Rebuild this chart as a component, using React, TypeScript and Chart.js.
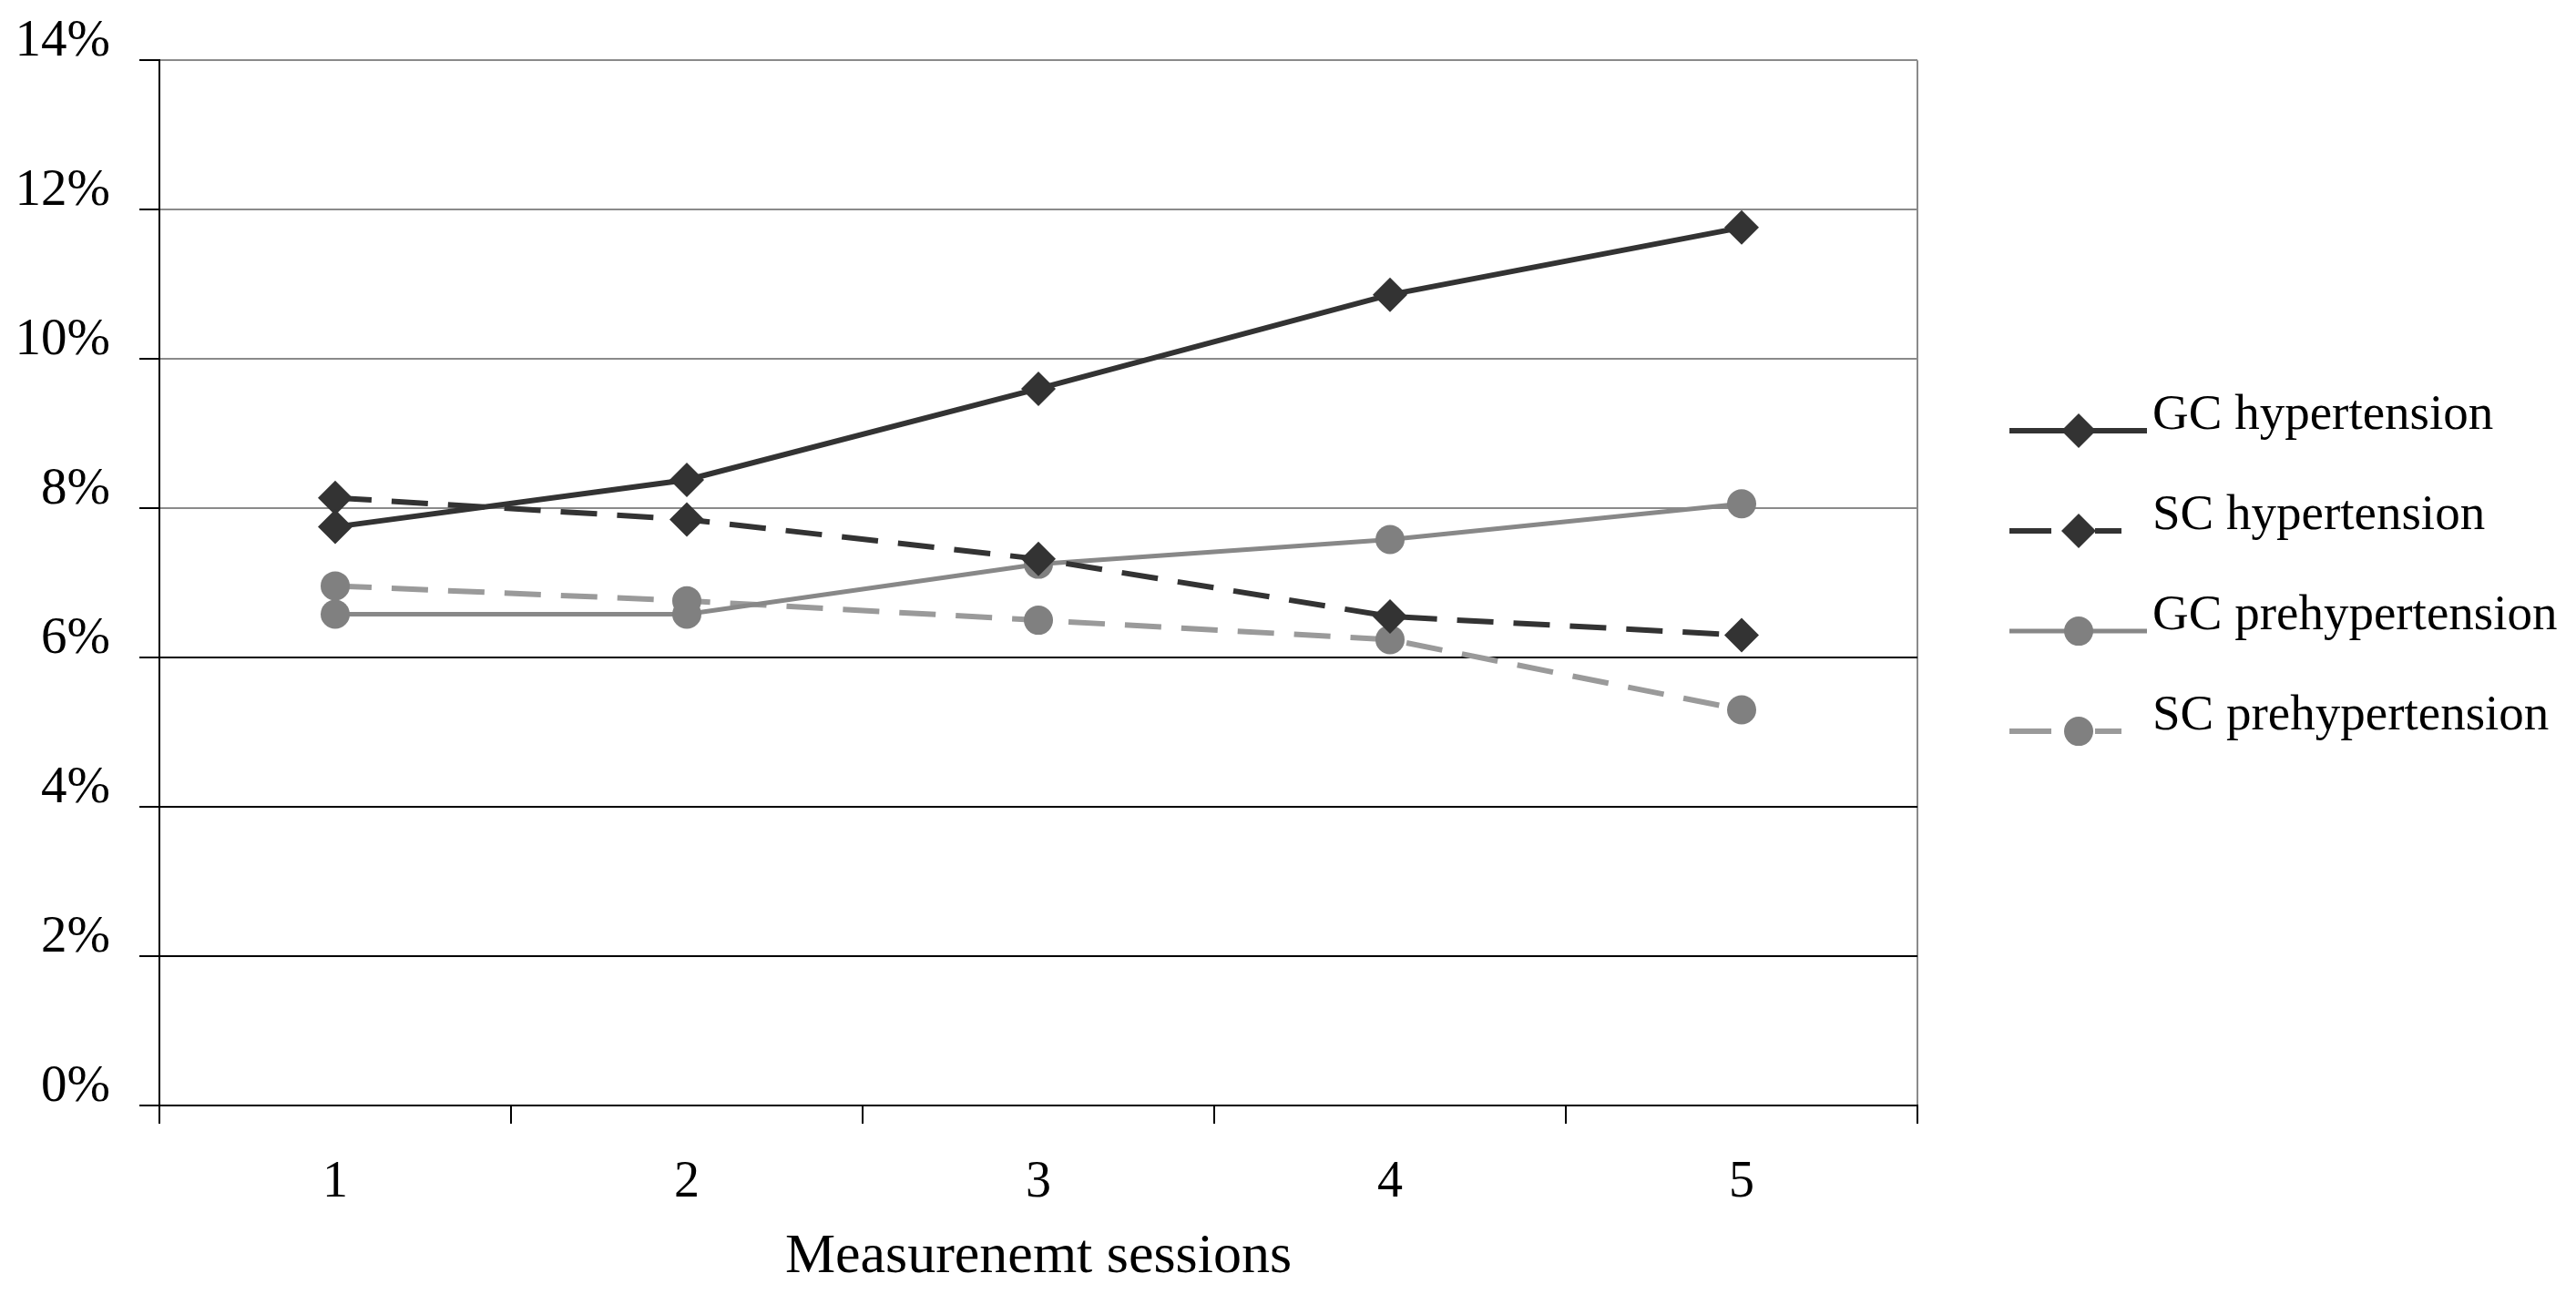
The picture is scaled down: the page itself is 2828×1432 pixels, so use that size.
import React, { useEffect, useRef } from 'react';
import { Chart, registerables } from 'chart.js';

Chart.register(...registerables);

const categories = ['1', '2', '3', '4', '5'];
const seriesNames = ['GC hypertension', 'SC hypertension', 'GC prehypertension', 'SC prehypertension'];
const gcHypertension = [7.75, 8.38, 9.6, 10.86, 11.76];
const scHypertension = [8.14, 7.85, 7.32, 6.55, 6.3];
const gcPrehypertension = [6.58, 6.58, 7.25, 7.58, 8.06];
const scPrehypertension = [6.96, 6.76, 6.5, 6.24, 5.3];
const yMin = 0;
const yMax = 14;
const yStep = 2;
const xTitle = 'Measurenemt sessions';

const FONT = '"Liberation Serif", "Times New Roman", serif';

function drawMarker(ctx: CanvasRenderingContext2D, style: string, x: number, y: number, r: number, color: string) {
  ctx.fillStyle = color;
  ctx.beginPath();
  if (style === 'rectRot') {
    ctx.moveTo(x - r, y);
    ctx.lineTo(x, y - r);
    ctx.lineTo(x + r, y);
    ctx.lineTo(x, y + r);
    ctx.closePath();
  } else {
    ctx.arc(x, y, r, 0, Math.PI * 2);
  }
  ctx.fill();
}

const lineLegend = {
  id: 'lineLegend',
  afterDraw(chart: any) {
    const { ctx, chartArea } = chart;
    const x0 = chartArea.right + 101;
    const xm = x0 + 76;
    const mid = (chartArea.top + chartArea.bottom) / 2;
    chart.data.datasets.forEach((ds: any, i: number) => {
      const y = mid + (i - 1.5) * 110 - 2;
      ctx.save();
      ctx.strokeStyle = ds.borderColor;
      ctx.lineWidth = ds.borderWidth;
      const dashed = ds.borderDash && ds.borderDash.length > 0;
      ctx.setLineDash(dashed ? [46, 48] : []);
      ctx.beginPath();
      ctx.moveTo(x0, y);
      ctx.lineTo(dashed ? x0 + 123 : x0 + 151, y);
      ctx.stroke();
      ctx.setLineDash([]);
      drawMarker(ctx, ds.pointStyle, xm, y, ds.pointRadius, ds.pointBackgroundColor);
      ctx.fillStyle = '#000';
      ctx.font = `55px ${FONT}`;
      ctx.textAlign = 'left';
      ctx.textBaseline = 'alphabetic';
      ctx.fillText(ds.label, x0 + 157, y - 2);
      ctx.restore();
    });
  },
};

export default function App() {
  const canvasRef = useRef<HTMLCanvasElement>(null);

  useEffect(() => {
    document.body.style.margin = '0';
    const canvas = canvasRef.current;
    if (!canvas) return;
    const dark = '#333333';
    const chart = new Chart(canvas, {
      type: 'line',
      data: {
        labels: categories,
        datasets: [
          {
            label: seriesNames[0],
            data: gcHypertension,
            borderColor: dark,
            backgroundColor: dark,
            borderWidth: 6,
            pointStyle: 'rectRot',
            pointRadius: 19,
            pointBackgroundColor: dark,
            pointBorderWidth: 0,
            tension: 0,
          },
          {
            label: seriesNames[1],
            data: scHypertension,
            borderColor: dark,
            backgroundColor: dark,
            borderWidth: 6,
            borderDash: [40, 22],
            pointStyle: 'rectRot',
            pointRadius: 19,
            pointBackgroundColor: dark,
            pointBorderWidth: 0,
            tension: 0,
          },
          {
            label: seriesNames[2],
            data: gcPrehypertension,
            borderColor: '#888888',
            backgroundColor: '#808080',
            borderWidth: 5,
            pointStyle: 'circle',
            pointRadius: 16,
            pointBackgroundColor: '#808080',
            pointBorderWidth: 0,
            tension: 0,
          },
          {
            label: seriesNames[3],
            data: scPrehypertension,
            borderColor: '#9a9a9a',
            backgroundColor: '#808080',
            borderWidth: 6,
            borderDash: [40, 22],
            pointStyle: 'circle',
            pointRadius: 16,
            pointBackgroundColor: '#808080',
            pointBorderWidth: 0,
            tension: 0,
          },
        ],
      },
      options: {
        animation: false,
        responsive: true,
        maintainAspectRatio: false,
        devicePixelRatio: 1,
        layout: { padding: { top: 63, right: 723, left: 0, bottom: 0 } },
        plugins: {
          legend: { display: false },
          tooltip: { enabled: false },
        },
        scales: {
          x: {
            type: 'category',
            offset: true,
            grid: {
              offset: true,
              drawOnChartArea: true,
              color: (c: any) => (c.index === undefined ? '#8a8a8a' : 'rgba(0,0,0,0)'),
              lineWidth: 2,
              tickLength: 20,
              tickColor: '#000',
              tickWidth: 2,
            },
            border: { color: '#000', width: 2 },
            ticks: {
              color: '#000',
              font: { family: FONT, size: 56 },
              padding: 32,
              maxRotation: 0,
            },
            title: {
              display: true,
              text: xTitle,
              color: '#000',
              font: { family: FONT, size: 62 },
              padding: { top: 0, bottom: 14 },
            },
            afterFit: (s: any) => {
              s.height = 218;
            },
          },
          y: {
            min: yMin,
            max: yMax,
            grid: {
              color: (c: any) => (c.tick && c.tick.value >= 8 ? '#8a8a8a' : '#000'),
              lineWidth: 2,
              tickLength: 22,
              tickColor: '#000',
              tickWidth: 2,
            },
            border: { color: '#000', width: 2 },
            ticks: {
              stepSize: yStep,
              color: '#000',
              font: { family: FONT, size: 57 },
              padding: 32,
              labelOffset: -20,
              callback: (v: any) => `${v}%`,
            },
            afterFit: (s: any) => {
              s.width = 175;
            },
          },
        },
      },
      plugins: [lineLegend],
    });
    return () => chart.destroy();
  }, []);

  return (
    <div style={{ width: '2828px', height: '1432px', position: 'relative', background: '#fff' }}>
      <canvas ref={canvasRef} />
    </div>
  );
}
